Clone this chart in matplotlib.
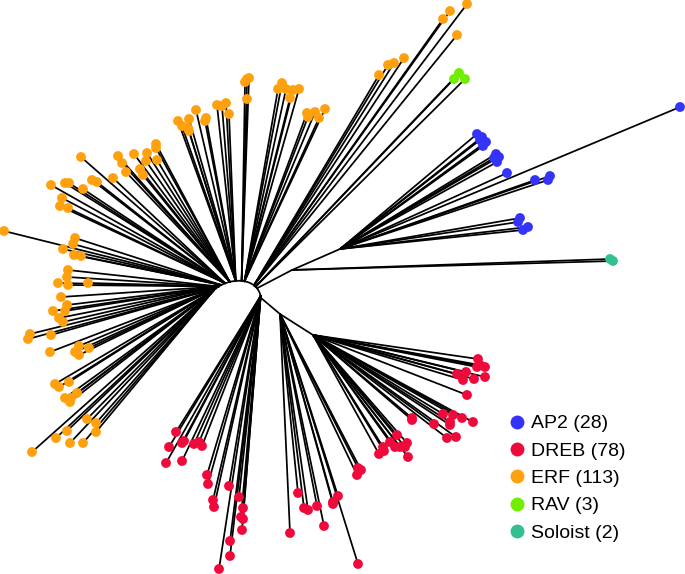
import numpy as np
import matplotlib
matplotlib.use("Agg")
import matplotlib.pyplot as plt
from matplotlib.path import Path
from matplotlib.patches import PathPatch
from matplotlib.lines import Line2D

plt.rcParams['font.family'] = ['Liberation Sans', 'DejaVu Sans']

# famille -> (effectif, couleur)
familles = ["AP2", "DREB", "ERF", "RAV", "Soloist"]
effectifs = [28, 78, 113, 3, 2]
couleurs = ["#3333fa", "#f00a3c", "#ffa00f", "#70ee00", "#33c08e"]

# arc central de l'arbre (courbe de Bezier, unités de mise en page, y vers le bas)
arc_ctrl = [(214, 290), (228, 277), (258, 276), (261, 298)]

# clades attachés à l'arc : (paramètre t sur l'arc, famille, feuilles)
erf_1 = [(55, 384), (59, 387), (69, 382), (65, 398), (71, 398), (70, 402), (77, 393),
         (87, 419), (96, 423), (96, 432), (67, 431), (56, 438), (70, 443), (83, 443), (32, 452)]
erf_2 = [(30, 334), (28, 339), (51, 335), (50, 352), (75, 352), (79, 346), (79, 355), (89, 348)]
erf_3 = [(61, 297), (67, 305), (65, 311), (53, 311), (59, 318), (63, 322),
         (68, 270), (67, 277), (68, 285), (58, 283), (88, 283)]
erf_4 = [(75, 238), (73, 244), (63, 249), (74, 255), (81, 256), (4, 231)]
erf_5 = [(62, 198), (60, 206), (68, 208), (51, 185), (65, 183), (69, 183), (92, 180),
         (97, 182), (83, 189), (113, 178), (81, 157)]
erf_6 = [(147, 153), (146, 161), (157, 160), (134, 154), (118, 156), (122, 163),
         (126, 172), (140, 169), (143, 175), (156, 144), (156, 148)]
erf_7 = [(196, 110), (189, 119), (206, 118), (205, 121), (178, 121), (182, 126),
         (189, 131), (188, 128), (217, 105), (222, 106), (226, 103), (229, 114)]
erf_8 = [(247, 79), (249, 78), (245, 82), (247, 99)]
erf_9 = [(282, 83), (278, 89), (286, 89), (293, 90), (299, 89), (290, 98),
         (307, 113), (308, 117), (315, 112), (325, 109), (319, 118)]
erf_10 = [(404, 58), (394, 63), (388, 65), (379, 75), (467, 4), (450, 11), (443, 19), (457, 35)]
rav_1 = [(459, 73), (454, 79), (465, 79)]
dreb_1 = [(176, 432), (169, 447), (182, 443), (184, 441), (166, 463), (182, 461), (194, 444),
          (199, 442), (202, 446), (207, 475), (208, 484), (213, 500), (214, 507), (229, 486),
          (239, 497), (243, 508), (241, 517), (243, 519), (242, 530), (230, 541), (230, 556),
          (219, 569)]

clades_arc = [
    (0.00, "ERF", erf_1), (0.05, "ERF", erf_2), (0.10, "ERF", erf_3),
    (0.15, "ERF", erf_4), (0.22, "ERF", erf_5), (0.30, "ERF", erf_6),
    (0.40, "ERF", erf_7), (0.50, "ERF", erf_8), (0.55, "ERF", erf_9),
    (0.74, "ERF", erf_10), (0.78, "RAV", rav_1), (0.97, "DREB", dreb_1),
]

# branches internes : noeud -> noeud
noeud_ap2_t = 0.82
noeud_ap2_a = (292, 270)
noeud_ap2_b = (340, 249)
soloist_1 = [(610, 259), (613, 261)]
ap2_1 = [(477, 134), (482, 137), (486, 142), (483, 146), (480, 140), (496, 154), (499, 157),
         (497, 162), (494, 158), (507, 173), (535, 180), (548, 180), (550, 176), (680, 107),
         (520, 218), (523, 230), (528, 227), (518, 222)]

noeud_dreb_a = (280, 314)
noeud_dreb_b = (313, 335)
dreb_2 = [(298, 493), (290, 533), (304, 508), (308, 510), (317, 506), (324, 526), (333, 502),
          (338, 496), (333, 504), (358, 564), (358, 468), (361, 470), (357, 475)]
dreb_3 = [(397, 435), (407, 443), (408, 457), (390, 442), (395, 447), (400, 447), (383, 447),
          (379, 454), (384, 451), (405, 447), (412, 420), (412, 418), (443, 414), (453, 415),
          (462, 418), (473, 422), (450, 422), (450, 425), (434, 424), (447, 438), (456, 437),
          (478, 359), (480, 365), (485, 367), (477, 367), (457, 374), (466, 372), (463, 380),
          (474, 379), (485, 377), (467, 395)]


def bezier(t, P):
    P = np.array(P, dtype=float)
    return ((1 - t) ** 3 * P[0] + 3 * (1 - t) ** 2 * t * P[1]
            + 3 * (1 - t) * t ** 2 * P[2] + t ** 3 * P[3])


fig = plt.figure(figsize=(6.85, 5.74), dpi=100)
ax = fig.add_axes([0, 0, 1, 1])
ax.set_xlim(0, 685)
ax.set_ylim(574, 0)
ax.axis("off")

lw = 1.25
trait = dict(color="black", lw=lw, solid_capstyle="round", zorder=1)

# l'arc
arc = PathPatch(Path(arc_ctrl, [Path.MOVETO, Path.CURVE4, Path.CURVE4, Path.CURVE4]),
                fill=False, lw=lw, edgecolor="black", zorder=1)
ax.add_patch(arc)

pointes = []  # (x, y, famille)


def branche(depart, feuilles, fam):
    for (x, y) in feuilles:
        ax.plot([depart[0], x], [depart[1], y], **trait)
        pointes.append((x, y, fam))


for t, fam, feuilles in clades_arc:
    branche(bezier(t, arc_ctrl), feuilles, fam)

# AP2 + Soloist
p = bezier(noeud_ap2_t, arc_ctrl)
ax.plot([p[0], noeud_ap2_a[0]], [p[1], noeud_ap2_a[1]], **trait)
ax.plot([noeud_ap2_a[0], noeud_ap2_b[0]], [noeud_ap2_a[1], noeud_ap2_b[1]], **trait)
branche(noeud_ap2_a, soloist_1, "Soloist")
branche(noeud_ap2_b, ap2_1, "AP2")

# DREB
p = bezier(1.0, arc_ctrl)
ax.plot([p[0], noeud_dreb_a[0]], [p[1], noeud_dreb_a[1]], **trait)
ax.plot([noeud_dreb_a[0], noeud_dreb_b[0]], [noeud_dreb_a[1], noeud_dreb_b[1]], **trait)
branche(noeud_dreb_a, dreb_2, "DREB")
branche(noeud_dreb_b, dreb_3, "DREB")

# les feuilles
for fam, c in zip(familles, couleurs):
    xs = [x for x, y, f in pointes if f == fam]
    ys = [y for x, y, f in pointes if f == fam]
    ax.scatter(xs, ys, s=50, color=c, edgecolors="none", zorder=3)

poignees = [Line2D([], [], marker="o", ls="none", markersize=10, color=c, markeredgewidth=0)
            for c in couleurs]
etiquettes = ["{} ({})".format(f, n) for f, n in zip(familles, effectifs)]
ax.legend(poignees, etiquettes, loc="upper left", bbox_to_anchor=(498 / 685, 1 - 405 / 574),
          frameon=False, fontsize=14, handlelength=1.0, handletextpad=0.2,
          labelspacing=0.5, borderpad=0)

fig.savefig("out.png", dpi=100)
